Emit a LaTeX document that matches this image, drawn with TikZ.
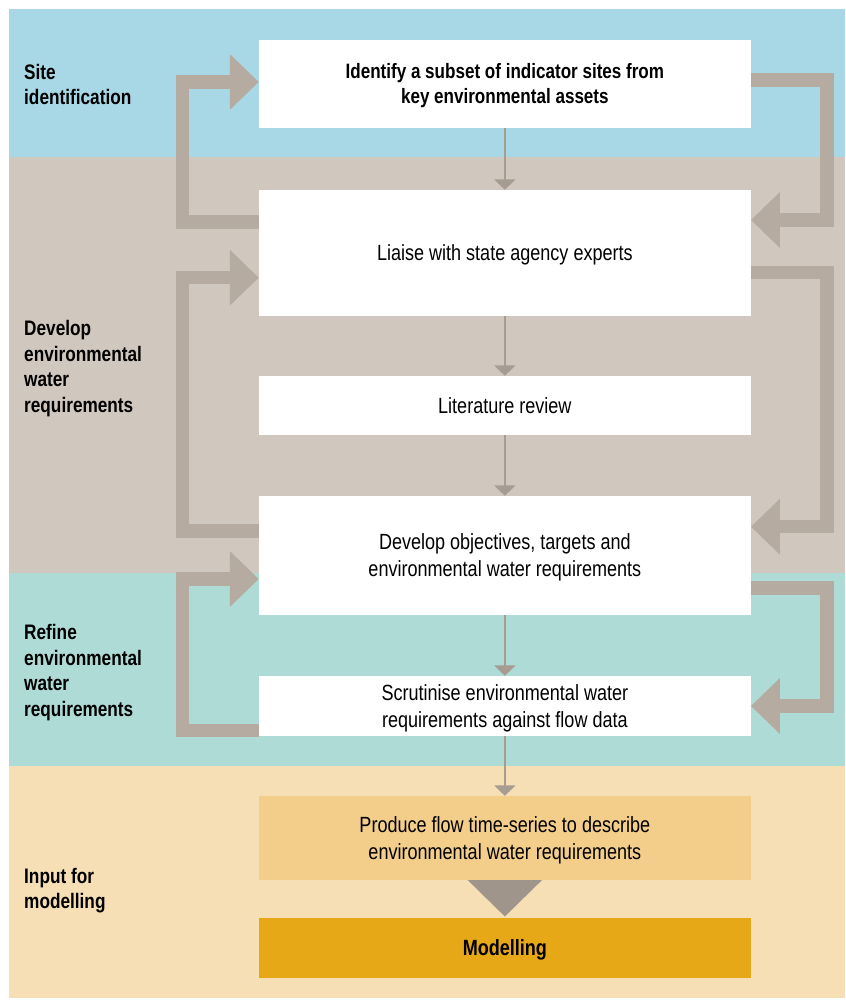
\documentclass[tikz,border=0pt]{standalone}
\usepackage{fontspec}
\setmainfont{Liberation Sans}[FakeStretch=0.82]
\usetikzlibrary{arrows.meta,calc}
\definecolor{bandblue}{HTML}{A8D8E6}
\definecolor{bandtaupe}{HTML}{D0C7BE}
\definecolor{bandteal}{HTML}{AEDBD6}
\definecolor{bandbeige}{HTML}{F6DFB5}
\definecolor{fbgrey}{HTML}{B5ABA1}
\definecolor{flowgrey}{HTML}{A69C92}
\definecolor{trigrey}{HTML}{A0958A}
\definecolor{boxorange}{HTML}{F3CD8A}
\definecolor{boxgold}{HTML}{E7A817}
\begin{document}
\begin{tikzpicture}[x=1pt,y=-1pt,
  stepbox/.style={fill=white, draw=none, minimum width=491.7pt, align=center, inner sep=0pt,
    text depth=0pt, font=\fontsize{22}{27}\selectfont},
  lab/.style={anchor=west, align=left, inner sep=0pt, font=\bfseries\fontsize{21}{25.5}\selectfont},
  flow/.style={draw=flowgrey, line width=2.3pt, -{Triangle[width=21pt,length=10.5pt]}},
  fb/.style={draw=fbgrey, line width=13.5pt, line join=miter, -{Triangle[width=54pt,length=29pt]}}]
\useasboundingbox (0,0) rectangle (845,1000);
% bands
\fill[bandblue] (9,9.3) rectangle (845,157.3);
\fill[bandtaupe] (9,157.3) rectangle (845,572.7);
\fill[bandteal] (9,572.7) rectangle (845,766);
\fill[bandbeige] (9,766) rectangle (845,998);
% left labels
\node[lab] (lsite) at (24,84.5) {Site\\identification};
\node[lab] (ldev) at (24,368.5) {Develop\\environmental\\water\\requirements};
\node[lab] (lref) at (24,672.5) {Refine\\environmental\\water\\requirements};
\node[lab] (linp) at (24,890.5) {Input for\\modelling};
% boxes
\node[stepbox, minimum height=87.7pt, font=\bfseries\fontsize{20.8}{25}\selectfont] (b1) at (504.85,83.85)
  {Identify a subset of indicator sites from\\key environmental assets};
\node[stepbox, minimum height=126pt] (b2) at (504.85,253) {Liaise with state agency experts};
\node[stepbox, minimum height=59pt] (b3) at (504.85,405.5) {Literature review};
\node[stepbox, minimum height=119pt] (b4) at (504.85,555.5)
  {Develop objectives, targets and\\environmental water requirements};
\node[stepbox, minimum height=60pt] (b5) at (504.85,706)
  {Scrutinise environmental water\\requirements against flow data};
\node[stepbox, fill=boxorange, minimum height=84pt] (b6) at (504.85,838)
  {Produce flow time-series to describe\\environmental water requirements};
\node[stepbox, fill=boxgold, minimum height=60pt, font=\bfseries\fontsize{22}{27}\selectfont] (b7) at (504.85,948) {Modelling};
% forward flow
\draw[flow] (b1) -- (b2);
\draw[flow] (b2) -- (b3);
\draw[flow] (b3) -- (b4);
\draw[flow] (b4) -- (b5);
\draw[flow] (b5) -- (b6);
\fill[trigrey] ($(b6.south)+(-37,0)$) -- ($(b6.south)+(37,0)$) -- ($(b7.north)+(0,-1.3)$) -- cycle;
% feedback left
\draw[fb] ($(b2.west)+(0,-31)$) -- ++(-76.5,0) |- ($(b1.west)+(0,-1.85)$);
\draw[fb] ($(b4.west)+(0,-24.5)$) -- ++(-76.5,0) |- ($(b2.west)+(0,24.7)$);
\draw[fb] ($(b5.west)+(0,24.5)$) -- ++(-76.5,0) |- ($(b4.west)+(0,23.5)$);
% feedback right
\draw[fb] ($(b1.east)+(0,-3.85)$) -- ++(76,0) |- ($(b2.east)+(0,-33)$);
\draw[fb] ($(b2.east)+(0,19.7)$) -- ++(76,0) |- ($(b4.east)+(0,-28.8)$);
\draw[fb] ($(b4.east)+(0,32.5)$) -- ++(76,0) |- (b5.east);
\end{tikzpicture}
\end{document}
